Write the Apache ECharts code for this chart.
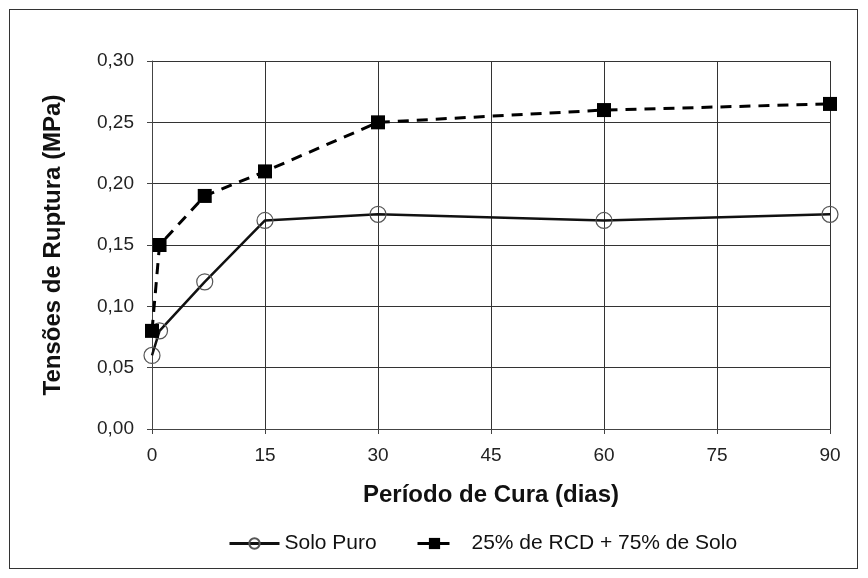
<!DOCTYPE html>
<html><head><meta charset="utf-8">
<script src="https://cdn.jsdelivr.net/npm/echarts@6/dist/echarts.min.js"></script>
<style>html,body{margin:0;padding:0;background:#fff}#c{width:868px;height:578px}
#frame{position:absolute;left:9px;top:9px;width:849px;height:560px;border:1px solid #333;pointer-events:none;box-sizing:border-box}</style>
</head><body><div id="c"></div><div id="frame"></div>
<script>
const days = [0, 1, 7, 15, 30, 60, 90];
const soloPuro = [0.06, 0.08, 0.12, 0.17, 0.175, 0.17, 0.175];
const rcd = [0.08, 0.15, 0.19, 0.21, 0.25, 0.26, 0.265];
const seriesNames = ['Solo Puro', '25% de RCD + 75% de Solo'];
const xTitle = 'Período de Cura (dias)';
const yTitle = 'Tensões de Ruptura (MPa)';

const chart = echarts.init(document.getElementById('c'));
const font = 'Liberation Sans, Arial, sans-serif';
const legendText = {fontFamily: font, fontSize: 21, color: '#111'};
chart.setOption({
  animation: false,
  grid: {left: 152, right: 38, top: 61, bottom: 149},
  xAxis: {
    type: 'value', min: 0, max: 90, interval: 15,
    name: xTitle, nameLocation: 'middle', nameGap: 54,
    nameTextStyle: {fontFamily: font, fontSize: 24, fontWeight: 'bold', color: '#111'},
    axisLine: {lineStyle: {color: '#444', width: 1}},
    axisTick: {show: true, length: 5, lineStyle: {color: '#444'}},
    axisLabel: {fontFamily: font, fontSize: 19, color: '#222', margin: 17},
    splitLine: {show: true, lineStyle: {color: '#333', width: 1}}
  },
  yAxis: {
    type: 'value', min: 0, max: 0.3, interval: 0.05,
    name: yTitle, nameLocation: 'middle', nameGap: 87, nameRotate: 90,
    nameTextStyle: {fontFamily: font, fontSize: 24, fontWeight: 'bold', color: '#111'},
    axisLine: {show: true, lineStyle: {color: '#444', width: 1}},
    axisTick: {show: true, length: 5, lineStyle: {color: '#444'}},
    axisLabel: {fontFamily: font, fontSize: 19, color: '#222', margin: 18,
      formatter: v => v.toFixed(2).replace('.', ',')},
    splitLine: {show: true, lineStyle: {color: '#333', width: 1}}
  },
  legend: [
    {
      left: 228, top: 533, padding: 0, itemWidth: 50, itemHeight: 13, itemGap: 0,
      lineStyle: {width: 3, color: '#111'},
      textStyle: legendText, data: [seriesNames[0]]
    },
    {
      left: 416, top: 533, padding: 0, itemWidth: 34, itemHeight: 14, itemGap: 0,
      lineStyle: {width: 3, color: '#000', type: [12, 8]},
      textStyle: Object.assign({}, legendText, {padding: [0, 0, 0, 15]}),
      data: [seriesNames[1]]
    }
  ],
  series: [
    {
      name: seriesNames[0], type: 'line',
      data: days.map((d, i) => [d, soloPuro[i]]),
      symbol: 'circle', symbolSize: 16,
      lineStyle: {color: '#111', width: 2.5},
      itemStyle: {color: 'rgba(255,255,255,0)', borderColor: '#555', borderWidth: 1.2},
      z: 3
    },
    {
      name: seriesNames[1], type: 'line',
      data: days.map((d, i) => [d, rcd[i]]),
      symbol: 'rect', symbolSize: 14,
      lineStyle: {color: '#000', width: 3, type: [11, 8]},
      itemStyle: {color: '#000'},
      z: 4
    }
  ]
});
</script></body></html>
